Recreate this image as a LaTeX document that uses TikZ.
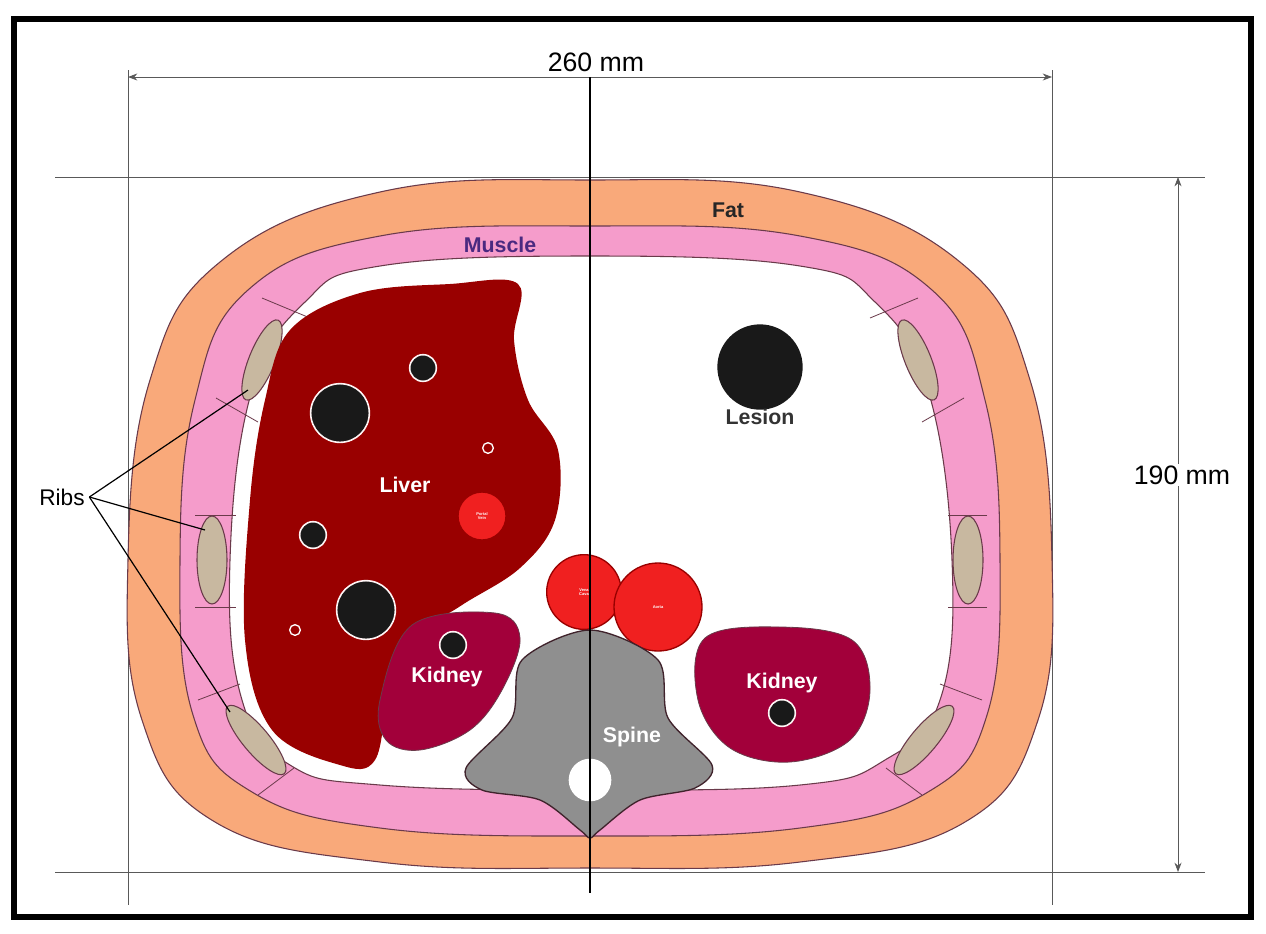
\documentclass[tikz,border=0pt]{standalone}
\usepackage{fontspec}
\setmainfont{Liberation Sans}
\usetikzlibrary{arrows.meta}
\definecolor{fat}{HTML}{F9A97A}
\definecolor{mus}{HTML}{F59CCB}
\definecolor{liv}{HTML}{990000}
\definecolor{kid}{HTML}{A2003A}
\definecolor{ves}{HTML}{F02020}
\definecolor{rib}{HTML}{C8B8A0}
\definecolor{spn}{HTML}{8F8F8F}
\definecolor{edge}{HTML}{6A3A4A}
\tikzset{
 outl/.style={draw=edge,line width=0.8pt},
 dim/.style={draw=gray!70!black,line width=0.6pt},
 ribe/.style={outl,fill=rib},
 vessel/.style={draw=white!85!pink,line width=1.2pt,fill=black!90},
 redv/.style={draw=liv,line width=1pt,fill=ves},
 lbl/.style={font=\fontsize{16}{18}\selectfont\bfseries},
 tiny/.style={font=\fontsize{3}{3.5}\selectfont\bfseries,text=white,align=center}
}
\begin{document}
\begin{tikzpicture}[x=0.75pt,y=-0.75pt]
\useasboundingbox (0,0) rectangle (1266,933);
\fill[white] (0,0) rectangle (1266,933);
\draw[line width=4pt] (14,19) rectangle (1251,917);
% dimension frame
\draw[dim] (55,177) -- (1205,177);
\draw[dim] (55,872) -- (1205,872);
\draw[dim] (128,70) -- (128,905);
\draw[dim] (1052,70) -- (1052,905);
\coordinate (dl) at (128,77); \coordinate (dr) at (1052,77);
\draw[dim,{Stealth[length=7pt]}-{Stealth[length=7pt]}] (dl) -- (dr);
\coordinate (vt) at (1178,177); \coordinate (vb) at (1178,872);
\draw[dim,{Stealth[length=7pt]}-{Stealth[length=7pt]}] (vt) -- (vb);
% fat
\draw[outl,fill=fat] plot[smooth cycle,tension=0.7] coordinates {(590,180) (800,192) (960,262) (1030,380) (1052,560) (1038,720) (965,822) (800,862) (590,868) (380,862) (215,822) (142,720) (128,560) (150,380) (220,262) (380,192)};
% muscle
\draw[outl,fill=mus] plot[smooth cycle,tension=0.7] coordinates {(590,226) (800,236) (932,290) (985,400) (1000,560) (987,715) (928,792) (800,828) (590,836) (380,828) (252,792) (193,715) (180,560) (195,400) (248,290) (380,236)};
% cavity
\draw[outl,fill=white] plot[smooth cycle,tension=0.7] coordinates {(590,256) (800,266) (875,302) (928,390) (952,560) (940,700) (885,760) (800,785) (590,790) (380,785) (290,765) (242,700) (230,560) (252,390) (305,302) (380,266)};
% rib segments
\foreach \a/\b in {{(262,298)}/{(310,318)},{(216,398)}/{(258,422)},{(195,515)}/{(236,515)},{(195,607)}/{(236,607)},{(198,700)}/{(240,684)},{(258,795)}/{(294,768)},
{(918,298)}/{(870,318)},{(964,398)}/{(922,422)},{(987,515)}/{(948,515)},{(987,607)}/{(948,607)},{(982,700)}/{(940,684)},{(922,795)}/{(886,768)}}
  \draw[outl,line width=0.6pt] \a -- \b;
\draw[ribe,rotate around={-22:(262,360)}] (262,360) ellipse (13 and 43);
\draw[ribe] (212,560) ellipse (15 and 44);
\draw[ribe,rotate around={40:(256,740)}] (256,740) ellipse (13 and 44);
\draw[ribe,rotate around={22:(918,360)}] (918,360) ellipse (13 and 43);
\draw[ribe] (968,560) ellipse (15 and 44);
\draw[ribe,rotate around={-40:(924,740)}] (924,740) ellipse (13 and 44);
% liver
\fill[liv] plot[smooth cycle,tension=0.6] coordinates {(290,330) (360,293) (450,284) (518,284) (514,340) (528,400) (558,450) (555,520) (520,568) (462,605) (418,636) (390,690) (375,760) (340,765) (272,730) (245,640) (250,500) (265,400)};
\node[vessel,circle,minimum size=44,inner sep=0] (v1) at (340,413) {};
\node[vessel,circle,minimum size=20,inner sep=0] (v2) at (423,368) {};
\node[vessel,circle,minimum size=20,inner sep=0] (v3) at (313,535) {};
\node[vessel,circle,minimum size=44,inner sep=0] (v4) at (366,610) {};
\node[draw=white,fill=liv,circle,minimum size=8,inner sep=0,line width=1pt] (v5) at (488,448) {};
\node[draw=white,fill=liv,circle,minimum size=8,inner sep=0,line width=1pt] (v6) at (295,630) {};
\node[redv,circle,minimum size=36,inner sep=0,tiny] (pv) at (482,516) {Portal\\Vein};
\node[lbl,text=white] (liver) at (405,485) {Liver};
% kidneys
\draw[draw=edge,line width=0.6pt,fill=kid] plot[smooth cycle,tension=0.6] coordinates {(412,625) (495,613) (520,638) (502,690) (470,730) (420,750) (386,740) (380,700)};
\node[vessel,circle,minimum size=20,inner sep=0] (v7) at (453,645) {};
\node[lbl,text=white] (k1) at (447,677) {Kidney};
\draw[draw=edge,line width=0.6pt,fill=kid] plot[smooth cycle,tension=0.6] coordinates {(705,638) (780,627) (852,640) (870,690) (850,740) (790,762) (730,748) (698,700)};
\node[vessel,circle,minimum size=20,inner sep=0] (v8) at (782,713) {};
\node[lbl,text=white] (k2) at (782,683) {Kidney};
% great vessels
\node[redv,circle,minimum size=56,inner sep=0,tiny] (vc) at (584,592) {Vena\\Cava};
\node[redv,circle,minimum size=66,inner sep=0,tiny] (ao) at (658,607) {Aorta};
% spine
\draw[draw=edge!60!black,line width=1pt,fill=spn] plot[smooth cycle,tension=0.5] coordinates {(522,660) (590,630) (658,660) (668,718) (712,765) (695,788) (640,800) (600,830) (590,838) (580,830) (540,800) (482,790) (466,768) (512,718)};
\node[fill=white,circle,minimum size=32,inner sep=0] (sc) at (590,780) {};
\node[lbl,text=white] (spine) at (632,737) {Spine};
% lesion
\node[fill=black!90,circle,minimum size=64,inner sep=0] (les) at (760,367) {};
\node[lbl,text=black!80] (lesl) at (760,417) {Lesion};
% center line
\coordinate (ct) at (590,77); \coordinate (cb) at (590,893);
\draw[line width=1.5pt] (ct) -- (cb);
% labels
\node[font=\fontsize{20}{22}\selectfont] (w) at (596,62) {260 mm};
\node[font=\fontsize{20}{22}\selectfont,fill=white,inner sep=1pt] (h) at (1182,475) {190 mm};
\node[lbl,text=black!85] (fat) at (728,210) {Fat};
\node[lbl,text=edge!70!blue] (mus) at (500,245) {Muscle};
\node[font=\fontsize{17}{19}\selectfont] (ribs) at (62,497) {Ribs};
\coordinate (r1) at (248,390); \coordinate (r2) at (205,530); \coordinate (r3) at (230,712);
\foreach \r in {r1,r2,r3} \draw[line width=0.9pt] (ribs.east) -- (\r);
\end{tikzpicture}
\end{document}
